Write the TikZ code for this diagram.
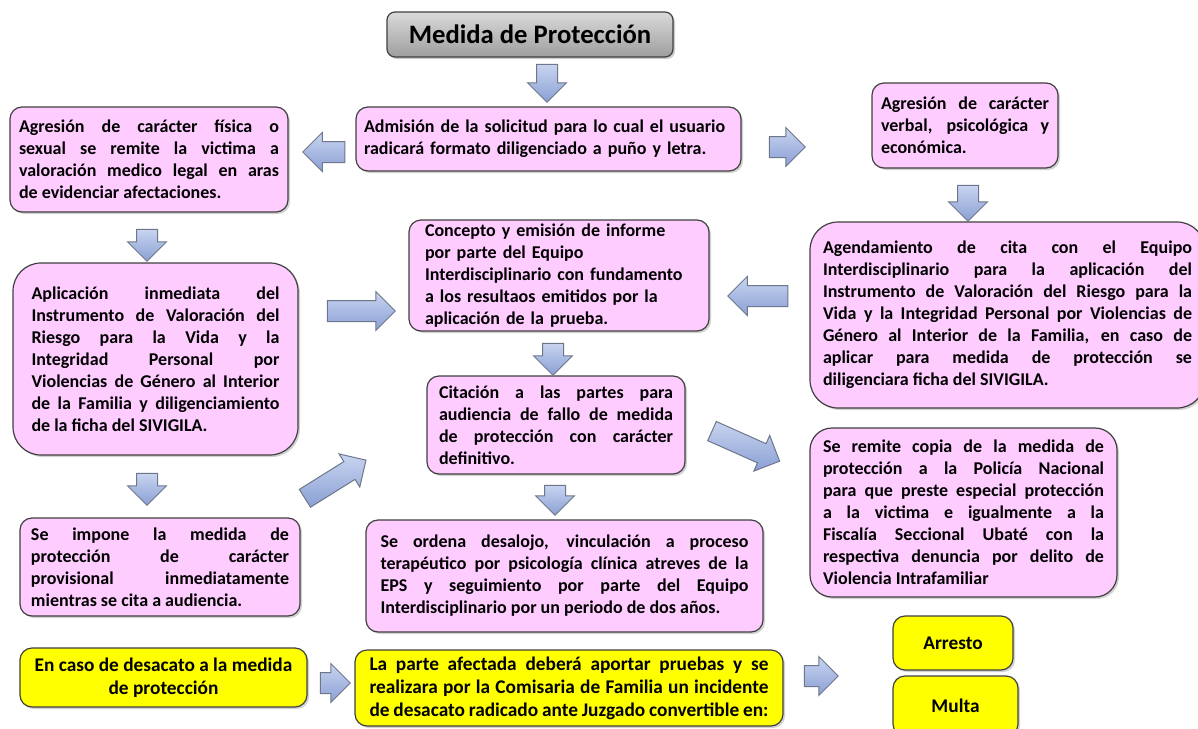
\documentclass[tikz,border=0pt]{standalone}
\usepackage{fontspec}
\setmainfont{Carlito}
\usetikzlibrary{shapes.arrows,shadows}

\newlength\px
\setlength\px{0.75pt}

\definecolor{boxpink}{RGB}{255,204,255}
\definecolor{boxline}{RGB}{64,64,64}
\definecolor{signyellow}{RGB}{255,255,0}
\definecolor{arrtop}{RGB}{200,212,240}
\definecolor{arrbot}{RGB}{138,160,212}
\definecolor{arrline}{RGB}{110,118,138}
\definecolor{titletop}{RGB}{218,218,218}
\definecolor{titlebot}{RGB}{158,158,158}

\tikzset{
  stepbox/.style={draw=boxline, fill=boxpink, line width=1.2\px, rounded corners=12\px,
    inner xsep=0pt, inner ysep=0pt, align=justify,
    font=\bfseries\fontsize{13.5pt}{16.5pt}\selectfont,
    drop shadow={shadow xshift=2\px, shadow yshift=-2\px, opacity=0.35}},
  signbox/.style={stepbox, fill=signyellow, font=\bfseries\fontsize{14.5pt}{17.25pt}\selectfont},
  titlebox/.style={draw=boxline, line width=1.2\px, rounded corners=8\px,
    top color=titletop, bottom color=titlebot,
    font=\bfseries\fontsize{20pt}{24pt}\selectfont,
    minimum width=286\px, minimum height=45\px,
    drop shadow={shadow xshift=2\px, shadow yshift=-2\px, opacity=0.4}},
  barrow/.style={single arrow, draw=arrline, line width=1\px,
    top color=arrtop, bottom color=arrbot, inner xsep=0pt, inner ysep=10\px,
    single arrow head extend=9\px, single arrow head indent=0pt}
}

\begin{document}
\begin{tikzpicture}[x=1\px, y=-1\px]
  \useasboundingbox[fill=white] (0,0) rectangle (1198,728);

  % title and first step
  \node[titlebox] (title) at (530,34.5) {Medida de Protección};
  \node[stepbox, minimum width=385\px, minimum height=64\px, text width=369\px, align=left]
    (adm) at (548.5,139) {Admisión de la solicitud para lo cual el usuario\\
      radicará formato diligenciado a puño y letra.};

  % left branch
  \node[stepbox, minimum width=278\px, minimum height=105\px, text width=260\px]
    (fisica) at (149,159.5) {Agresión de carácter física o\linebreak
      sexual se remite  la victima a\linebreak
      valoración medico legal en aras\linebreak
      de evidenciar afectaciones.};
  \node[stepbox, rounded corners=28\px, minimum width=285\px, minimum height=192\px, text width=248\px]
    (aplicacion) at (155.5,359) {Aplicación inmediata del\linebreak
      Instrumento de Valoración del\linebreak
      Riesgo para la Vida y la\linebreak
      Integridad Personal por\linebreak
      Violencias de Género al Interior\linebreak
      de la Familia y diligenciamiento\linebreak
      de la ficha del SIVIGILA.};
  \node[stepbox, minimum width=280\px, minimum height=98\px, text width=258\px]
    (impone) at (160,567) {Se impone la medida de\linebreak
      protección de carácter\linebreak
      provisional inmediatamente\linebreak
      mientras se cita a audiencia.};

  % right branch
  \node[stepbox, minimum width=186\px, minimum height=85\px, text width=168\px]
    (verbal) at (965,125.5) {Agresión de carácter\linebreak
      verbal, psicológica y\linebreak
      económica.};
  \node[stepbox, rounded corners=28\px, minimum width=395\px, minimum height=186\px, text width=369\px]
    (agenda) at (1007.5,315) {Agendamiento de cita con el Equipo\linebreak
      Interdisciplinario para la aplicación del\linebreak
      Instrumento de Valoración del Riesgo para la\linebreak
      Vida y la Integridad Personal por Violencias de\linebreak
      Género al Interior  de la Familia, en caso de\linebreak
      aplicar para medida de protección se\linebreak
      diligenciara ficha del SIVIGILA.};
  \node[stepbox, rounded corners=22\px, minimum width=307\px, minimum height=169\px, text width=281\px]
    (remite) at (963.5,512.5) {Se remite copia de la medida de\linebreak
      protección a la Policía Nacional\linebreak
      para que preste especial protección\linebreak
      a la victima e igualmente a la\linebreak
      Fiscalía Seccional Ubaté con la\linebreak
      respectiva denuncia por delito de\linebreak
      Violencia Intrafamiliar};

  % middle column
  \node[stepbox, minimum width=300\px, minimum height=111\px, text width=268\px, align=left]
    (concepto) at (559,275.5) {Concepto y emisión de informe\\
      por parte del Equipo\\
      Interdisciplinario con fundamento\\
      a los resultaos emitidos por la\\
      aplicación de la prueba.};
  \node[stepbox, minimum width=258\px, minimum height=98\px, text width=234\px]
    (citacion) at (556,425) {Citación a las partes para\linebreak
      audiencia de fallo de medida\linebreak
      de protección con carácter\linebreak
      definitivo.};
  \node[stepbox, minimum width=397\px, minimum height=112\px, text width=368\px]
    (ordena) at (564.5,576) {Se ordena desalojo, vinculación a proceso\linebreak
      terapéutico por psicología clínica atreves de la\linebreak
      EPS y seguimiento por parte del Equipo\linebreak
      Interdisciplinario por un periodo de dos años.};

  % desacato
  \node[signbox, minimum width=287\px, minimum height=59\px, align=center]
    (desacato) at (163.5,677.5) {En caso  de desacato a la medida\\ de protección};
  \node[signbox, minimum width=428\px, minimum height=76\px, text width=399\px]
    (incidente) at (569,688) {La parte afectada deberá aportar pruebas y se\linebreak
      realizara por la Comisaria de Familia un incidente\linebreak
      de desacato radicado ante Juzgado convertible en:};
  \node[signbox, minimum width=120\px, minimum height=54\px, align=center]
    (arresto) at (953,643) {Arresto};
  \node[signbox, minimum width=125\px, minimum height=60\px, align=center]
    (multa) at (955.5,706) {Multa};

  % block arrows
  \node[barrow, rotate=-90, minimum height=38\px] (ar1) at (547,78) {};
  \node[barrow, rotate=180, minimum height=42\px] (ar2) at (329,152) {};
  \node[barrow, minimum height=36\px] (ar3) at (782,147) {};
  \node[barrow, rotate=-90, minimum height=36\px] (ar4) at (968,198) {};
  \node[barrow, rotate=-90, minimum height=32\px] (ar5) at (147,240) {};
  \node[barrow, minimum height=68\px] (ar6) at (356,311) {};
  \node[barrow, rotate=180, minimum height=60\px] (ar7) at (763,296) {};
  \node[barrow, rotate=-90, minimum height=32\px] (ar8) at (553,354) {};
  \node[barrow, rotate=-90, minimum height=32\px] (ar9) at (147,484) {};
  \node[barrow, rotate=32, minimum height=72\px] (ar10) at (331,482) {};
  \node[barrow, rotate=-24, minimum height=74\px] (ar11) at (741,444) {};
  \node[barrow, rotate=-90, minimum height=30\px] (ar12) at (555,495) {};
  \node[barrow, minimum height=30\px] (ar13) at (330,683) {};
  \node[barrow, minimum height=34\px] (ar14) at (816,676) {};
\end{tikzpicture}
\end{document}
